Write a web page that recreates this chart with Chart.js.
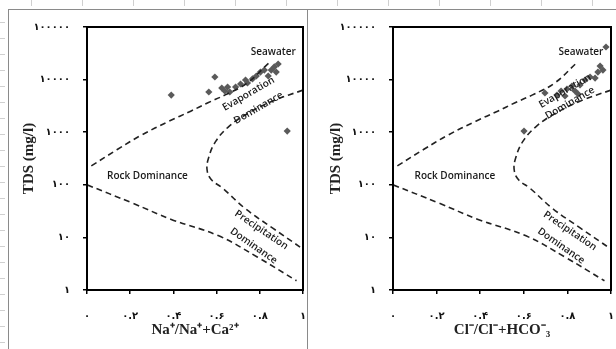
<!DOCTYPE html>
<html>
<head>
<meta charset="utf-8">
<script src="https://cdn.jsdelivr.net/npm/chart.js@4.4.0/dist/chart.umd.min.js"></script>
<style>
body{margin:0;background:#fff;}
#page{position:relative;width:616px;height:349px;overflow:hidden;background:#fff;}
.ticksLeft{position:absolute;left:0;top:7px;width:5px;height:342px;
  background:repeating-linear-gradient(to bottom, transparent 0 15px, #d0d0d0 15px 16px);}
.ticksTop{position:absolute;left:0;top:0;width:616px;height:6px;
  background:repeating-linear-gradient(to right, transparent 0 31px, #d0d0d0 31px 32px, transparent 32px 51px);}
.frame{position:absolute;top:9px;height:340px;border-left:1px solid #8a8a8a;border-top:1px solid #8a8a8a;}
.panel{position:absolute;top:0;height:349px;}
</style>
</head>
<body>
<div id="page">
  <div class="ticksLeft"></div>
  <div class="ticksTop"></div>
  <div class="frame" style="left:8px;width:299px"></div>
  <div class="frame" style="left:307px;width:309px"></div>
  <div class="panel" style="left:0;width:307px"><canvas id="gibbsNa" width="307" height="349"></canvas></div>
  <div class="panel" style="left:307px;width:309px"><canvas id="gibbsCl" width="309" height="349"></canvas></div>
</div>
<script>
/*======== DATOS =============*/
const xTickValues = [0, 0.2, 0.4, 0.6, 0.8, 1]
const xTickLabels = ['۰', '۰.۲', '۰.۴', '۰.۶', '۰.۸', '۱']
const yTickValues = [1, 10, 100, 1000, 10000, 100000]
const yTickLabels = ['۱', '۱۰', '۱۰۰', '۱۰۰۰', '۱۰۰۰۰', '۱۰۰۰۰۰']

// muestras, Na+/(Na+ + Ca2+)
const naRatio = [0.39, 0.564, 0.592, 0.624, 0.638, 0.651, 0.661, 0.688, 0.711, 0.734, 0.743,
	0.766, 0.784, 0.803, 0.821, 0.839, 0.853, 0.867, 0.876, 0.885, 0.927]
const naTDS = [5090, 5810, 11200, 6920, 6070, 7230, 5810, 7230, 8240, 9820, 8610,
	10300, 11700, 13900, 15200, 11700, 15200, 17400, 13900, 19800, 1050]

// muestras, Cl-/(Cl- + HCO3-)
const clRatio = [0.601, 0.697, 0.752, 0.771, 0.789, 0.798, 0.821, 0.835, 0.849, 0.858, 0.881,
	0.904, 0.927, 0.94, 0.95, 0.963, 0.977]
const clTDS = [1050, 5560, 5090, 6070, 4880, 6620, 7550, 6070, 5320, 7890, 9820,
	11200, 10700, 13900, 18100, 15200, 41700]

// limites de Gibbs (lineas discontinuas)
const upperRatio = [0.02, 0.14, 0.25, 0.38, 0.48, 0.56, 0.64, 0.74, 0.84]
const upperTDS = [229, 468, 871, 1620, 2510, 3630, 5130, 8510, 20400]
const innerRatio = [1.0, 0.87, 0.75, 0.66, 0.595, 0.562, 0.556, 0.575, 0.63, 0.73, 0.86, 1.0]
const innerTDS = [6310, 4070, 2340, 1320, 661, 316, 191, 126, 85, 36, 15, 6]
const lowerRatio = [0, 0.21, 0.39, 0.61, 0.79, 0.97]
const lowerTDS = [100, 45, 22, 10.7, 4.2, 1.5]

/*======== TEXTOS =============*/
const notesNa = [
	{text: 'Seawater', x: 0.862, y: 33000, rot: 0},
	{text: 'Evaporation', x: 0.748, y: 5350, rot: -30},
	{text: 'Dominance', x: 0.794, y: 2890, rot: -30},
	{text: 'Rock Dominance', x: 0.28, y: 147, rot: 0},
	{text: 'Precipitation', x: 0.807, y: 13.8, rot: 34},
	{text: 'Dominance', x: 0.771, y: 6.9, rot: 35}
]
const notesCl = [
	{text: 'Seawater', x: 0.862, y: 33000, rot: 0},
	{text: 'Evaporation', x: 0.789, y: 6050, rot: -30},
	{text: 'Dominance', x: 0.812, y: 3600, rot: -30},
	{text: 'Rock Dominance', x: 0.284, y: 147, rot: 0},
	{text: 'Precipitation', x: 0.812, y: 13.2, rot: 34},
	{text: 'Dominance', x: 0.771, y: 6.9, rot: 35}
]

const toXY = (xs, ys) => xs.map((x, i) => ({x: x, y: ys[i]}))

const dashed = (xs, ys) => ({
	data: toXY(xs, ys),
	showLine: true,
	borderColor: '#222',
	borderWidth: 1.6,
	borderDash: [6, 4],
	pointRadius: 0,
	tension: 0.4,
	fill: false
})

const boxPlugin = {
	id: 'box',
	afterDraw(chart){
		const {ctx, chartArea: a} = chart
		ctx.save()
		ctx.strokeStyle = '#000'
		ctx.lineWidth = 2
		ctx.strokeRect(a.left, a.top, a.right - a.left, a.bottom - a.top)
		ctx.restore()
	}
}

const notesPlugin = {
	id: 'notes',
	afterDatasetsDraw(chart, args, opts){
		const ctx = chart.ctx
		ctx.save()
		ctx.fillStyle = '#1a1a1a'
		ctx.font = '600 10px "Open Sans"'
		ctx.textAlign = 'center'
		ctx.textBaseline = 'middle'
		opts.items.forEach(n => {
			const px = chart.scales.x.getPixelForValue(n.x)
			const py = chart.scales.y.getPixelForValue(n.y)
			ctx.save()
			ctx.translate(px, py)
			ctx.rotate(n.rot * Math.PI / 180)
			ctx.fillText(n.text, 0, 0)
			ctx.restore()
		})
		ctx.restore()
	}
}

function gibbs(canvasId, xs, ys, notes, xTitle, yWidth, padRight){
	const ctx = document.getElementById(canvasId).getContext('2d')
	return new Chart(ctx, {
		type: 'scatter',
		data: {
			datasets: [
				dashed(upperRatio, upperTDS),
				dashed(innerRatio, innerTDS),
				dashed(lowerRatio, lowerTDS),
				{
					data: toXY(xs, ys),
					pointStyle: 'rectRot',
					pointRadius: 3.6,
					backgroundColor: '#5a5a5a',
					borderColor: '#5a5a5a',
					borderWidth: 0
				}
			]
		},
		options: {
			responsive: false,
			animation: false,
			layout: {padding: {top: 27, right: padRight, left: 0, bottom: 0}},
			plugins: {
				legend: {display: false},
				tooltip: {enabled: false},
				notes: {items: notes}
			},
			scales: {
				x: {
					type: 'linear',
					min: 0,
					max: 1,
					afterBuildTicks: s => { s.ticks = xTickValues.map(v => ({value: v})) },
					afterFit: s => { s.height = 59; s.paddingLeft = 0; s.paddingRight = 0 },
					grid: {drawOnChartArea: false, drawTicks: true, tickLength: 4, color: '#000', lineWidth: 1.5},
					border: {display: true, color: '#000', width: 2},
					ticks: {
						padding: 16,
						maxRotation: 0,
						color: '#111',
						font: {family: 'DejaVu Sans', size: 10, weight: 'bold'},
						callback: (v, i) => xTickLabels[i]
					},
					title: {
						display: true,
						text: xTitle,
						color: '#222',
						font: {family: 'Liberation Serif', size: 15, weight: 'bold'},
						padding: {top: 0, bottom: 10}
					}
				},
				y: {
					type: 'logarithmic',
					min: 1,
					max: 100000,
					afterBuildTicks: s => { s.ticks = yTickValues.map(v => ({value: v})) },
					afterFit: s => { s.width = yWidth },
					grid: {drawOnChartArea: false, drawTicks: true, tickLength: 4, color: '#000', lineWidth: 1.5},
					border: {display: true, color: '#000', width: 2},
					ticks: {
						padding: 13,
						color: '#111',
						font: {family: 'DejaVu Sans', size: 10, weight: 'bold'},
						callback: (v, i) => yTickLabels[i]
					},
					title: {
						display: true,
						text: 'TDS (mg/l)',
						color: '#222',
						font: {family: 'Liberation Serif', size: 15, weight: 'bold'},
						padding: {top: 20, bottom: 0}
					}
				}
			}
		},
		plugins: [boxPlugin, notesPlugin]
	})
}

gibbs('gibbsNa', naRatio, naTDS, notesNa, 'Na⁺/Na⁺+Ca²⁺', 87, 2)
gibbs('gibbsCl', clRatio, clTDS, notesCl, 'Cl⁻/Cl⁻+HCO⁻₃', 86, 5)
</script>
</body>
</html>
